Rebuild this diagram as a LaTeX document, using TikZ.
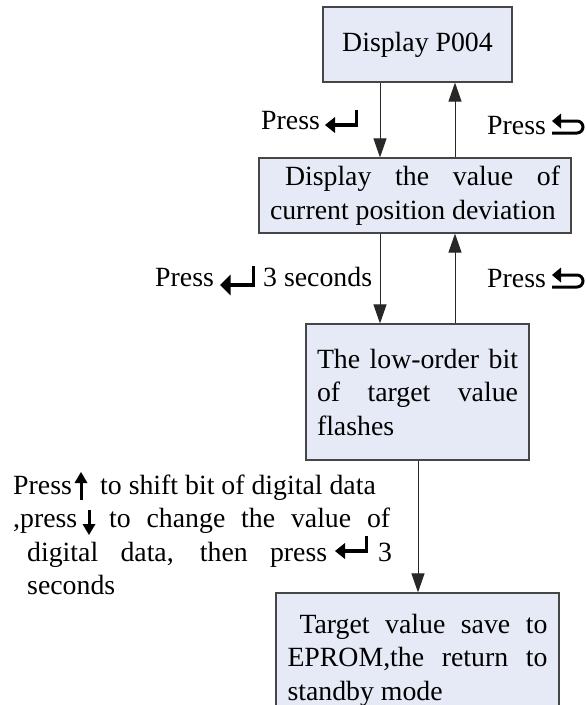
\documentclass[tikz,border=0pt]{standalone}
\usepackage{fontspec}
\setmainfont{Liberation Serif}
\usetikzlibrary{arrows.meta}
\definecolor{boxfill}{RGB}{230,234,246}
\definecolor{boxline}{RGB}{70,70,70}
\definecolor{arrline}{RGB}{40,40,40}
\tikzset{
  txt/.style={inner sep=0pt, anchor=base west, font=\fontsize{27.8}{33.5}\selectfont},
  box/.style={draw=boxline, line width=1.2pt, fill=boxfill, inner sep=0pt, align=left,
              font=\fontsize{27.8}{33.5}\selectfont},
  arr/.style={draw=arrline, line width=1pt, -{Triangle[length=19pt,width=13pt]}},
  enterkey/.pic={
    \fill (0,0) -- (10,-8) -- (10,8) -- cycle;
    \draw[line width=3.5pt] (8,0) -- (33,0);
    \draw[line width=3pt] (31.5,1.75) -- (31.5,-15);
  },
  retkey/.pic={
    \fill (0,0) -- (9,-7.5) -- (9,7.5) -- cycle;
    \draw[line width=3pt, rounded corners=6pt] (8,0) -- (31,0) -- (31,12) -- (0,12);
  },
  upkey/.pic={
    \fill (0,0) -- (6.5,11) -- (-6.5,11) -- cycle;
    \draw[line width=3pt] (0,10) -- (0,28);
  },
  downkey/.pic={
    \fill (0,0) -- (6.5,-11) -- (-6.5,-11) -- cycle;
    \draw[line width=3pt] (0,-10) -- (0,-25);
  }
}
\begin{document}
\begin{tikzpicture}[x=1pt,y=-1pt]
\clip (0,0) rectangle (586,705);
\fill[white] (0,0) rectangle (586,705);

% boxes
\node[box, minimum width=189pt, minimum height=75pt] (b1) at (417.5,44.5) {Display P004};
\node[box, minimum width=312pt, minimum height=75pt] (b2) at (415,195.5)
  {\hspace*{15pt}\makebox[275pt][s]{Display the value of}\\current position deviation};
\node[box, minimum width=223pt, minimum height=136pt] (b3) at (417.5,392)
  {\makebox[201pt][s]{The low-order bit}\\\makebox[201pt][s]{of target value}\\flashes};
\node[box, minimum width=283pt, minimum height=134pt] (b4) at (417.5,660)
  {\hspace*{12pt}\makebox[248pt][s]{Target value save to}\\\makebox[260pt][s]{EPROM,the return to}\\standby mode};

% connectors
\coordinate (cl) at (380,0);
\coordinate (cr) at (455,0);
\coordinate (cm) at (418,0);
\draw[arr] (b1.south -| cl) -- (b2.north -| cl);
\draw[arr] (b2.north -| cr) -- (b1.south -| cr);
\draw[arr] (b2.south -| cl) -- (b3.north -| cl);
\draw[arr] (b3.north -| cr) -- (b2.south -| cr);
\draw[arr] (b3.south -| cm) -- (b4.north -| cm);

% labels, first level
\node[txt] (lp1) at (261,129) {Press};
\pic (ek1) at (325,125) {enterkey};
\node[txt] (rp1) at (487,134) {Press};
\pic (rk1) at (552,121) {retkey};

% labels, second level
\node[txt] (lp2) at (155,286) {Press};
\pic[xscale=1.05,yscale=1.3] (ek2) at (220,285) {enterkey};
\node[txt] (lp2b) at (263,286) {3 seconds};
\node[txt] (rp2) at (487,287) {Press};
\pic (rk2) at (552,275) {retkey};

% left text block
\node[txt] (l1a) at (13,494) {Press};
\pic (uk) at (81,472) {upkey};
\node[txt] (l1b) at (100,494) {to shift bit of digital data};
\node[txt] (l2a) at (13,527) {,press};
\pic (dk) at (89,535) {downkey};
\node[txt] (l2b) at (109,527) {\makebox[281pt][s]{to change the value of}};
\node[txt] (l3a) at (27,561) {\makebox[300pt][s]{digital data, then press}};
\pic (ek3) at (335,551) {enterkey};
\node[txt] (l3b) at (378,561) {3};
\node[txt] (l4) at (27,594) {seconds};
\end{tikzpicture}
\end{document}
